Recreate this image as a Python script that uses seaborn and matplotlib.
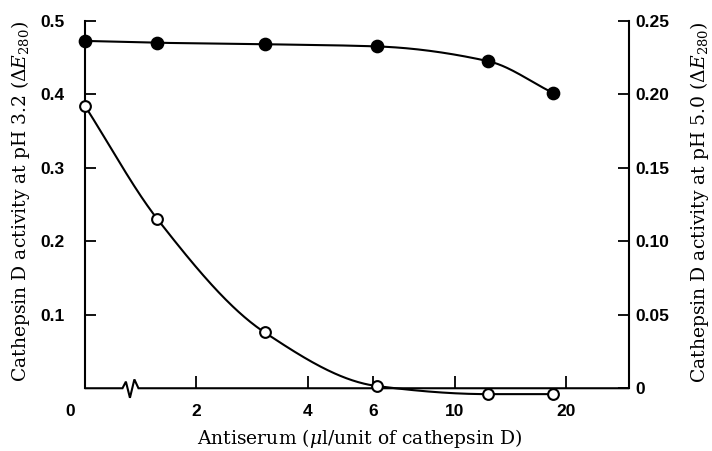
import numpy as np
import matplotlib
matplotlib.use("Agg")
import matplotlib.pyplot as plt
import seaborn as sns
import pandas as pd

# Antiserum added (ul per unit of cathepsin D); 0 sits at the broken origin
antiserum = [0, 1.57, 3.06, 6.16, 12.3, 18.4]
# Activity at pH 3.2 (left axis, filled circles)
activity_ph32 = [0.4725, 0.470, 0.468, 0.465, 0.445, 0.402]
# Activity at pH 5.0 (right axis, open circles)
activity_ph50 = [0.192, 0.115, 0.038, 0.0015, -0.004, -0.004]

x_ticks = [2, 4, 6, 10, 20]
x_ticklabels = ["2", "4", "6", "10", "20"]
left_ticks = [0.1, 0.2, 0.3, 0.4, 0.5]
left_ticklabels = ["0.1", "0.2", "0.3", "0.4", "0.5"]
right_ticks = [0, 0.05, 0.10, 0.15, 0.20, 0.25]
right_ticklabels = ["0", "0.05", "0.10", "0.15", "0.20", "0.25"]

sns.set_style("ticks")
plt.rcParams["font.family"] = ["DejaVu Serif"]
plt.rcParams["mathtext.fontset"] = "dejavuserif"
for key in ("text.color", "axes.labelcolor", "xtick.color", "ytick.color", "axes.edgecolor"):
    plt.rcParams[key] = "black"

ORIGIN = 1.0  # x position used for zero antiserum on the log axis


def pchip(xk, yk, xs):
    """Monotone cubic (Fritsch-Carlson) curve through the given points."""
    xk = np.asarray(xk, float)
    yk = np.asarray(yk, float)
    h = np.diff(xk)
    d = np.diff(yk) / h
    m = np.zeros_like(yk)
    for i in range(1, len(xk) - 1):
        if d[i - 1] * d[i] <= 0:
            m[i] = 0.0
        else:
            w1 = 2 * h[i] + h[i - 1]
            w2 = h[i] + 2 * h[i - 1]
            m[i] = (w1 + w2) / (w1 / d[i - 1] + w2 / d[i])
    m[0] = d[0]
    m[-1] = d[-1]
    out = np.empty_like(xs)
    for j, x in enumerate(xs):
        i = min(np.searchsorted(xk, x, side="right") - 1, len(xk) - 2)
        i = max(i, 0)
        t = (x - xk[i]) / h[i]
        h00 = 2 * t**3 - 3 * t**2 + 1
        h10 = t**3 - 2 * t**2 + t
        h01 = -2 * t**3 + 3 * t**2
        h11 = t**3 - t**2
        out[j] = h00 * yk[i] + h10 * h[i] * m[i] + h01 * yk[i + 1] + h11 * h[i] * m[i + 1]
    return out


xpos = np.where(np.asarray(antiserum) == 0, ORIGIN, np.asarray(antiserum, float))
df = pd.DataFrame({"x": xpos, "ph32": activity_ph32, "ph50": activity_ph50})

fig = plt.figure(figsize=(7.12, 4.51), dpi=100)
ax = fig.add_axes([85 / 712, 1 - 410.3 / 451, 544 / 712, 389.6 / 451])
ax2 = ax.twinx()

ax.set_xscale("log")
ax.set_xlim(ORIGIN, 29.6)
ax.set_ylim(-0.03, 0.5)
ax2.set_ylim(-0.015, 0.25)

# smooth curves drawn in log-x space
lx = np.log10(df["x"].values)
fine = np.linspace(lx[0], lx[-1], 400)
ax.plot(10 ** fine, pchip(lx, df["ph32"].values, fine), color="black", lw=1.5, zorder=3)
ax2.plot(10 ** fine, pchip(lx, df["ph50"].values, fine), color="black", lw=1.5, zorder=3)

sns.scatterplot(data=df, x="x", y="ph32", ax=ax, color="black", edgecolor="black",
                s=75, linewidth=1.2, zorder=5, clip_on=False)
sns.scatterplot(data=df, x="x", y="ph50", ax=ax2, color="white", edgecolor="black",
                s=60, linewidth=1.5, zorder=5, clip_on=False)

# spines
for a in (ax, ax2):
    a.spines["top"].set_visible(False)
    a.spines["bottom"].set_visible(False)
    a.spines["bottom"].set_position(("data", 0))
ax.spines["right"].set_visible(False)
ax2.spines["left"].set_visible(False)
ax.spines["left"].set_bounds(0, 0.5)
ax2.spines["right"].set_bounds(0, 0.25)
ax.spines["left"].set_linewidth(1.5)
ax2.spines["right"].set_linewidth(1.5)

# x axis line with a break near the origin
bx = [ORIGIN, 1.263, 1.29, 1.323, 1.36, 1.395, 29.6]
by = [0, 0, 0.009, -0.013, 0.012, 0, 0]
ax.plot(bx, by, color="black", lw=1.5, clip_on=False, zorder=4, solid_joinstyle="miter")

tick_font = dict(family="Liberation Sans", weight="bold", size=12.5)

ax.xaxis.set_minor_locator(matplotlib.ticker.NullLocator())
ax.set_xticks(x_ticks)
ax.set_xticklabels(x_ticklabels, **tick_font)
ax.tick_params(axis="x", direction="in", length=9, width=1.3, pad=11)
ax.annotate("0", xy=(ORIGIN, 0), xytext=(-11, -11.5), textcoords="offset points",
            ha="center", va="top", **tick_font)

ax.set_yticks(left_ticks)
ax.set_yticklabels(left_ticklabels, **tick_font)
ax.tick_params(axis="y", direction="in", length=8, width=1.3, pad=15)

ax2.set_yticks(right_ticks)
ax2.set_yticklabels(right_ticklabels, **tick_font)
ax2.tick_params(axis="y", direction="in", length=8, width=1.3, pad=4.5)

ax.set_xlabel(r"Antiserum ($\mu$l/unit of cathepsin D)", fontsize=13.5, labelpad=0)
ax.xaxis.set_label_coords(0.505, -0.043)
ax.set_ylabel(r"Cathepsin D activity at pH 3.2 ($\Delta E_{280}$)", fontsize=13.5)
ax.yaxis.set_label_coords(-0.097, 0.535)
ax2.set_ylabel(r"Cathepsin D activity at pH 5.0 ($\Delta E_{280}$)", fontsize=13.5)
ax2.yaxis.set_label_coords(1.108, 0.535)

fig.savefig("out.png", dpi=100)
